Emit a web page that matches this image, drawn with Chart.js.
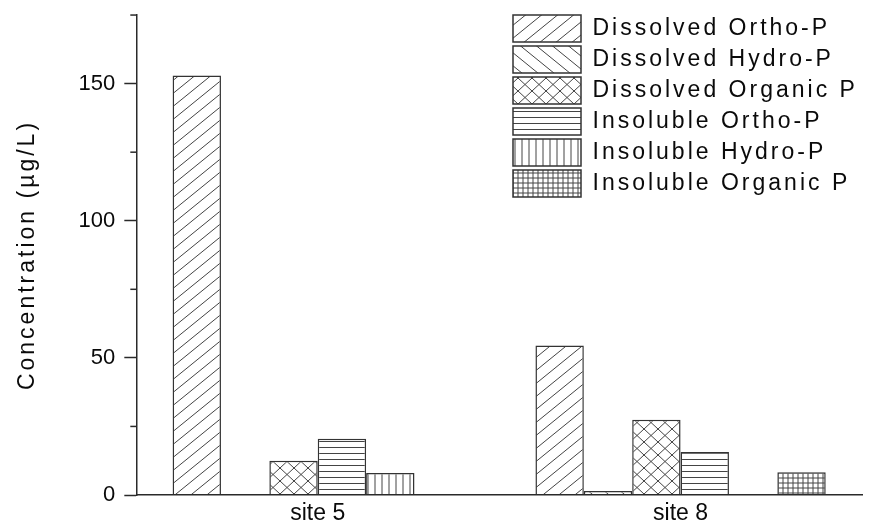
<!DOCTYPE html>
<html>
<head>
<meta charset="utf-8">
<script src="https://cdn.jsdelivr.net/npm/chart.js@4.4.1/dist/chart.umd.min.js"></script>
<style>
  html, body { margin: 0; padding: 0; background: #fff; }
  #wrap { position: relative; width: 874px; height: 525px; }
</style>
</head>
<body>
<div id="wrap"><canvas id="c"></canvas></div>
<script>
// values, µg/L
const sites = ['site 5', 'site 8'];
const seriesNames = ['Dissolved Ortho-P', 'Dissolved Hydro-P', 'Dissolved Organic P',
                     'Insoluble Ortho-P', 'Insoluble Hydro-P', 'Insoluble Organic P'];
const dissolvedOrtho   = [153, 54.5];
const dissolvedHydro   = [0, 1.5];
const dissolvedOrganic = [12.5, 27.4];
const insolubleOrtho   = [20.5, 15.7];
const insolubleHydro   = [8, 0];
const insolubleOrganic = [0, 8.3];
const yLabelled = [0, 50, 100, 150];

const FONT = "'Liberation Sans', Arial, sans-serif";
const INK = '#0a0a0a';
const EDGE = '#2a2a2a';

// hatch fills, one per series (Origin-style patterns)
function hatch(kind) {
  const sizes = { fwd: [16, 13], back: [16, 13], cross: [14, 13], horiz: [8, 6], vert: [7, 8], grid: [5, 5] };
  const [w, h] = sizes[kind];
  const t = document.createElement('canvas');
  t.width = w; t.height = h;
  const g = t.getContext('2d');
  g.fillStyle = '#fff';
  g.fillRect(0, 0, w, h);
  g.strokeStyle = '#444';
  g.lineWidth = 1;
  g.beginPath();
  if (kind === 'fwd' || kind === 'cross') {
    for (let k = -2; k <= 2; k++) { g.moveTo(k * w - w, 2 * h); g.lineTo((k + 1) * w + w, -h); }
  }
  if (kind === 'back' || kind === 'cross') {
    for (let k = -2; k <= 2; k++) { g.moveTo(k * w - w, -h); g.lineTo((k + 1) * w + w, 2 * h); }
  }
  if (kind === 'horiz' || kind === 'grid') { g.moveTo(0, h / 2 + 0.5); g.lineTo(w, h / 2 + 0.5); }
  if (kind === 'vert' || kind === 'grid') { g.moveTo(w / 2 + 0.5, 0); g.lineTo(w / 2 + 0.5, h); }
  g.stroke();
  return g.createPattern(t, 'repeat');
}

const seriesValues = [dissolvedOrtho, dissolvedHydro, dissolvedOrganic, insolubleOrtho, insolubleHydro, insolubleOrganic];
const hatchKinds = ['fwd', 'back', 'cross', 'horiz', 'vert', 'grid'];

// the figure's legend/title text is drawn wide; ticks are not
const textSpacing = {
  id: 'textSpacing',
  beforeDraw(chart) { chart.ctx.letterSpacing = '3px'; },
  afterDatasetsDraw(chart) { chart.ctx.letterSpacing = '0px'; },
};

// legend sits inside the plot, top right
const legendSpot = {
  id: 'legendSpot',
  afterLayout(chart) {
    const lg = chart.legend;
    if (!lg) return;
    const left = chart.chartArea.right - 353;
    lg.left = left;
    lg.right = chart.width;
    lg.top = chart.chartArea.top - 4;
  },
};

// short minor ticks between the labelled ones
const minorTicks = {
  id: 'minorTicks',
  afterDraw(chart) {
    const y = chart.scales.y, c = chart.ctx;
    c.save();
    c.strokeStyle = EDGE;
    c.lineWidth = 1.5;
    y.ticks.forEach(t => {
      if (yLabelled.includes(t.value)) return;
      const py = y.getPixelForValue(t.value);
      c.beginPath();
      c.moveTo(y.right - 6, py);
      c.lineTo(y.right, py);
      c.stroke();
    });
    c.restore();
  },
};

new Chart(document.getElementById('c'), {
  type: 'bar',
  data: {
    labels: sites,
    datasets: seriesNames.map((name, i) => ({
      label: name,
      data: seriesValues[i],
      backgroundColor: hatch(hatchKinds[i]),
    })),
  },
  options: {
    responsive: true,
    maintainAspectRatio: false,
    animation: false,
    layout: { padding: { top: 15, right: 12, left: 0, bottom: -8 } },
    datasets: {
      bar: { categoryPercentage: 0.8, barPercentage: 1, borderWidth: 1.5, borderColor: '#333' },
    },
    plugins: {
      legend: {
        position: 'chartArea',
        align: 'start',
        labels: { boxWidth: 68, boxHeight: 27, padding: 4, color: INK, font: { family: FONT, size: 23 } },
      },
      tooltip: { enabled: false },
    },
    scales: {
      x: {
        grid: { display: false, drawTicks: false },
        border: { display: true, color: EDGE, width: 1.5, z: 1 },
        ticks: { z: 1, padding: 7.5, color: INK, font: { family: FONT, size: 23, lineHeight: 1 } },
      },
      y: {
        min: 0,
        max: 175,
        ticks: {
          stepSize: 25,
          z: 1,
          padding: 9,
          color: INK,
          font: { family: FONT, size: 22, lineHeight: 0.55 },
          callback: v => (yLabelled.includes(v) ? v : ''),
        },
        grid: {
          drawOnChartArea: false,
          drawTicks: true,
          tickLength: 12,
          tickWidth: 1.5,
          tickColor: c => (yLabelled.includes(c.tick.value) ? EDGE : 'rgba(0,0,0,0)'),
        },
        border: { display: true, color: EDGE, width: 1.5, z: 1 },
        title: {
          display: true,
          text: 'Concentration (µg/L)',
          color: INK,
          font: { family: FONT, size: 23 },
          padding: { top: 14, bottom: 28 },
        },
      },
    },
  },
  plugins: [textSpacing, legendSpot, minorTicks],
});
</script>
</body>
</html>
